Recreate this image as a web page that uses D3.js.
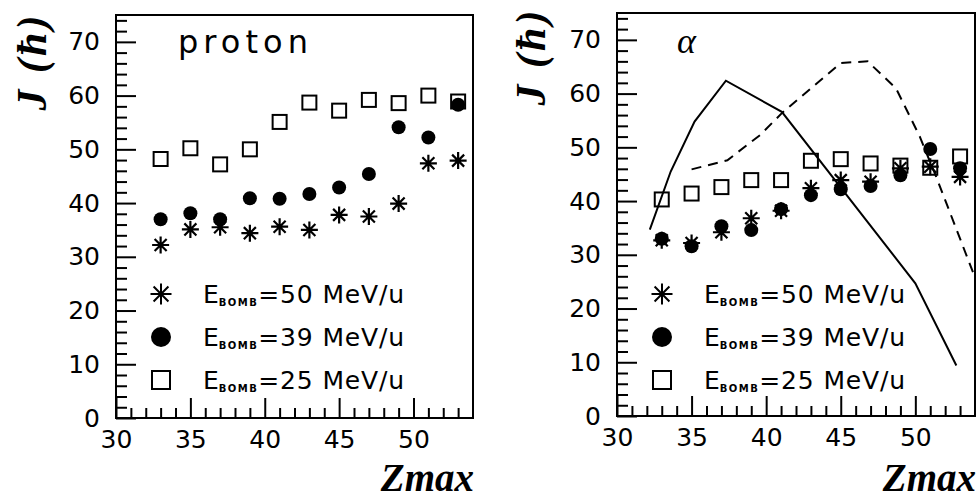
<!DOCTYPE html>
<html><head><meta charset="utf-8">
<script src="https://cdn.jsdelivr.net/npm/d3@7"></script>
<style>body{margin:0;background:#fff}svg{display:block}</style>
</head><body>
<svg id="c" width="978" height="498"></svg>
<script>
// ---------- data ----------
const zmax = [33, 35, 37, 39, 41, 43, 45, 47, 49, 51, 53];
const xMajorTicks = [30, 35, 40, 45, 50];
const yMajorTicks = [0, 10, 20, 30, 40, 50, 60, 70];
const legendLabels = ["=50 MeV/u", "=39 MeV/u", "=25 MeV/u"];

// proton panel
const proton50 = [32.2, 35.1, 35.5, 34.4, 35.6, 35.0, 37.8, 37.5, 39.9, 47.4, 47.9];
const proton39 = [37.0, 38.1, 37.0, 40.9, 40.8, 41.7, 42.9, 45.4, 54.1, 52.2, 58.3];
const proton25 = [48.2, 50.2, 47.2, 50.0, 55.1, 58.7, 57.2, 59.2, 58.6, 60.0, 58.9];

// alpha panel
const alpha50 = [32.7, 32.2, 34.2, 36.8, 38.2, 42.4, 43.9, 43.6, 46.1, 46.4, 44.5];
const alpha39 = [33.0, 31.6, 35.3, 34.6, 38.5, 41.1, 42.2, 42.8, 44.8, 49.7, 46.1];
const alpha25 = [40.3, 41.4, 42.6, 43.9, 43.9, 47.5, 47.8, 47.0, 46.6, 46.2, 48.3];

const solidX = [32.2, 33.6, 35.2, 37.3, 41.05, 50.0, 52.75];
const solidY = [34.7, 45.5, 54.8, 62.4, 56.6, 24.7, 9.4];
const dashX = [35.0, 37.4, 39.6, 41.1, 45.0, 46.8, 48.7, 50.3, 51.4, 53.9];
const dashY = [45.9, 47.6, 52.3, 56.5, 65.7, 66.0, 61.0, 52.0, 44.5, 26.5];

// ---------- drawing ----------
const svg = d3.select("#c");
const numFont = "'DejaVu Sans', sans-serif";
const serif = "'Liberation Serif', 'Times New Roman', serif";

function starPath(r) {
  const d = r * Math.SQRT1_2;
  return `M${-r},0L${r},0M0,${-r}L0,${r}M${-d},${-d}L${d},${d}M${-d},${d}L${d},${-d}`;
}

function panel(cfg) {
  const g = svg.append("g");
  const x = d3.scaleLinear().domain([30, 54]).range([cfg.x0, cfg.x1]);
  const y = d3.scaleLinear().domain([0, 75]).range([cfg.y1, cfg.y0]);

  const xMinor = d3.range(31, 54).filter(v => v % 5 !== 0);
  const yMinor = d3.range(2, 75, 2).filter(v => v % 10 !== 0);

  g.append("g").attr("transform", `translate(0,${cfg.y1})`)
    .call(d3.axisBottom(x).tickValues(xMajorTicks).tickSize(-20).tickPadding(12).tickFormat(d3.format("d")));
  g.append("g").attr("transform", `translate(0,${cfg.y1})`)
    .call(d3.axisBottom(x).tickValues(xMinor).tickSize(-10).tickFormat(""));
  g.append("g").attr("transform", `translate(${cfg.x0},0)`)
    .call(d3.axisLeft(y).tickValues(yMajorTicks).tickSize(-20).tickPadding(16).tickFormat(d3.format("d")));
  g.append("g").attr("transform", `translate(${cfg.x0},0)`)
    .call(d3.axisLeft(y).tickValues(yMinor).tickSize(-11).tickFormat(""));
  g.selectAll(".domain").remove();
  g.selectAll(".tick line").attr("stroke", "#000").attr("stroke-width", 2);
  g.selectAll(".tick text").attr("font-family", numFont).attr("font-size", 25).attr("fill", "#000");

  // frame
  g.append("rect").attr("x", cfg.x0).attr("y", cfg.y0)
    .attr("width", cfg.x1 - cfg.x0).attr("height", cfg.y1 - cfg.y0)
    .attr("fill", "none").attr("stroke", "#000").attr("stroke-width", 2);

  // lines
  const line = d3.line().x(d => x(d[0])).y(d => y(d[1]));
  if (cfg.solid) {
    g.append("path").datum(d3.zip(cfg.solid[0], cfg.solid[1])).attr("d", line)
      .attr("fill", "none").attr("stroke", "#000").attr("stroke-width", 2);
  }
  if (cfg.dash) {
    g.append("path").datum(d3.zip(cfg.dash[0], cfg.dash[1])).attr("d", line)
      .attr("fill", "none").attr("stroke", "#000").attr("stroke-width", 2)
      .attr("stroke-dasharray", "10,7");
  }

  // markers
  g.append("g").selectAll("rect").data(d3.zip(zmax, cfg.s25)).join("rect")
    .attr("x", d => x(d[0]) - 7).attr("y", d => y(d[1]) - 7)
    .attr("width", 14).attr("height", 14)
    .attr("fill", "none").attr("stroke", "#000").attr("stroke-width", 2);
  g.append("g").selectAll("circle").data(d3.zip(zmax, cfg.s39)).join("circle")
    .attr("cx", d => x(d[0])).attr("cy", d => y(d[1])).attr("r", 7).attr("fill", "#000");
  g.append("g").selectAll("path").data(d3.zip(zmax, cfg.s50)).join("path")
    .attr("transform", d => `translate(${x(d[0])},${y(d[1])})`)
    .attr("d", starPath(8.5)).attr("stroke", "#000").attr("stroke-width", 2.2).attr("fill", "none");

  // legend
  const lx = cfg.x0 + 45, ly = [294, 337, 380];
  const lg = g.append("g");
  lg.append("path").attr("transform", `translate(${lx},${ly[0]})`)
    .attr("d", starPath(10.5)).attr("stroke", "#000").attr("stroke-width", 2).attr("fill", "none");
  lg.append("circle").attr("cx", lx).attr("cy", ly[1]).attr("r", 10).attr("fill", "#000");
  lg.append("rect").attr("x", lx - 9).attr("y", ly[2] - 9).attr("width", 18).attr("height", 18)
    .attr("fill", "none").attr("stroke", "#000").attr("stroke-width", 2);
  legendLabels.forEach((lab, i) => {
    const t = lg.append("text").attr("x", lx + 42).attr("y", ly[i] + 9)
      .attr("font-family", numFont).attr("font-size", 25).attr("fill", "#000");
    t.append("tspan").text("E");
    t.append("tspan").attr("dy", 3).attr("font-size", 10).attr("font-weight", "bold")
      .attr("textLength", 38).text("BOMB");
    t.append("tspan").attr("dy", -3).attr("textLength", 146).text(lab);
  });

  // panel label
  g.append("text").attr("x", cfg.lblX).attr("y", cfg.lblY)
    .attr("font-family", cfg.lblFont).attr("font-style", cfg.lblStyle)
    .attr("font-size", cfg.lblSize).attr("fill", "#000")
    .attr("textLength", cfg.lblLen).text(cfg.label);

  // axis titles
  g.append("text").attr("x", cfg.x1 + 1).attr("y", 491).attr("text-anchor", "end")
    .attr("font-family", serif).attr("font-weight", "bold").attr("font-style", "italic")
    .attr("font-size", 39).attr("fill", "#000").text("Zmax");
  g.append("text").attr("transform", `translate(${cfg.yTitleX},${cfg.yTitleY}) rotate(-90)`)
    .attr("text-anchor", "middle").attr("dy", "0.35em")
    .attr("font-family", serif).attr("font-weight", "bold").attr("font-style", "italic")
    .attr("font-size", 42).attr("fill", "#000").attr("textLength", 95).text("J (ħ)");
}

panel({x0: 116, x1: 473, y0: 15, y1: 418,
  s50: proton50, s39: proton39, s25: proton25,
  label: "proton", lblX: 178, lblY: 53, lblSize: 32, lblLen: 130,
  lblFont: numFont, lblStyle: "normal",
  yTitleX: 31, yTitleY: 63});

panel({x0: 617, x1: 975, y0: 13, y1: 416,
  s50: alpha50, s39: alpha39, s25: alpha25,
  solid: [solidX, solidY], dash: [dashX, dashY],
  label: "α", lblX: 677, lblY: 53, lblSize: 36, lblLen: null,
  lblFont: serif, lblStyle: "italic",
  yTitleX: 530, yTitleY: 58});
</script>
</body></html>
